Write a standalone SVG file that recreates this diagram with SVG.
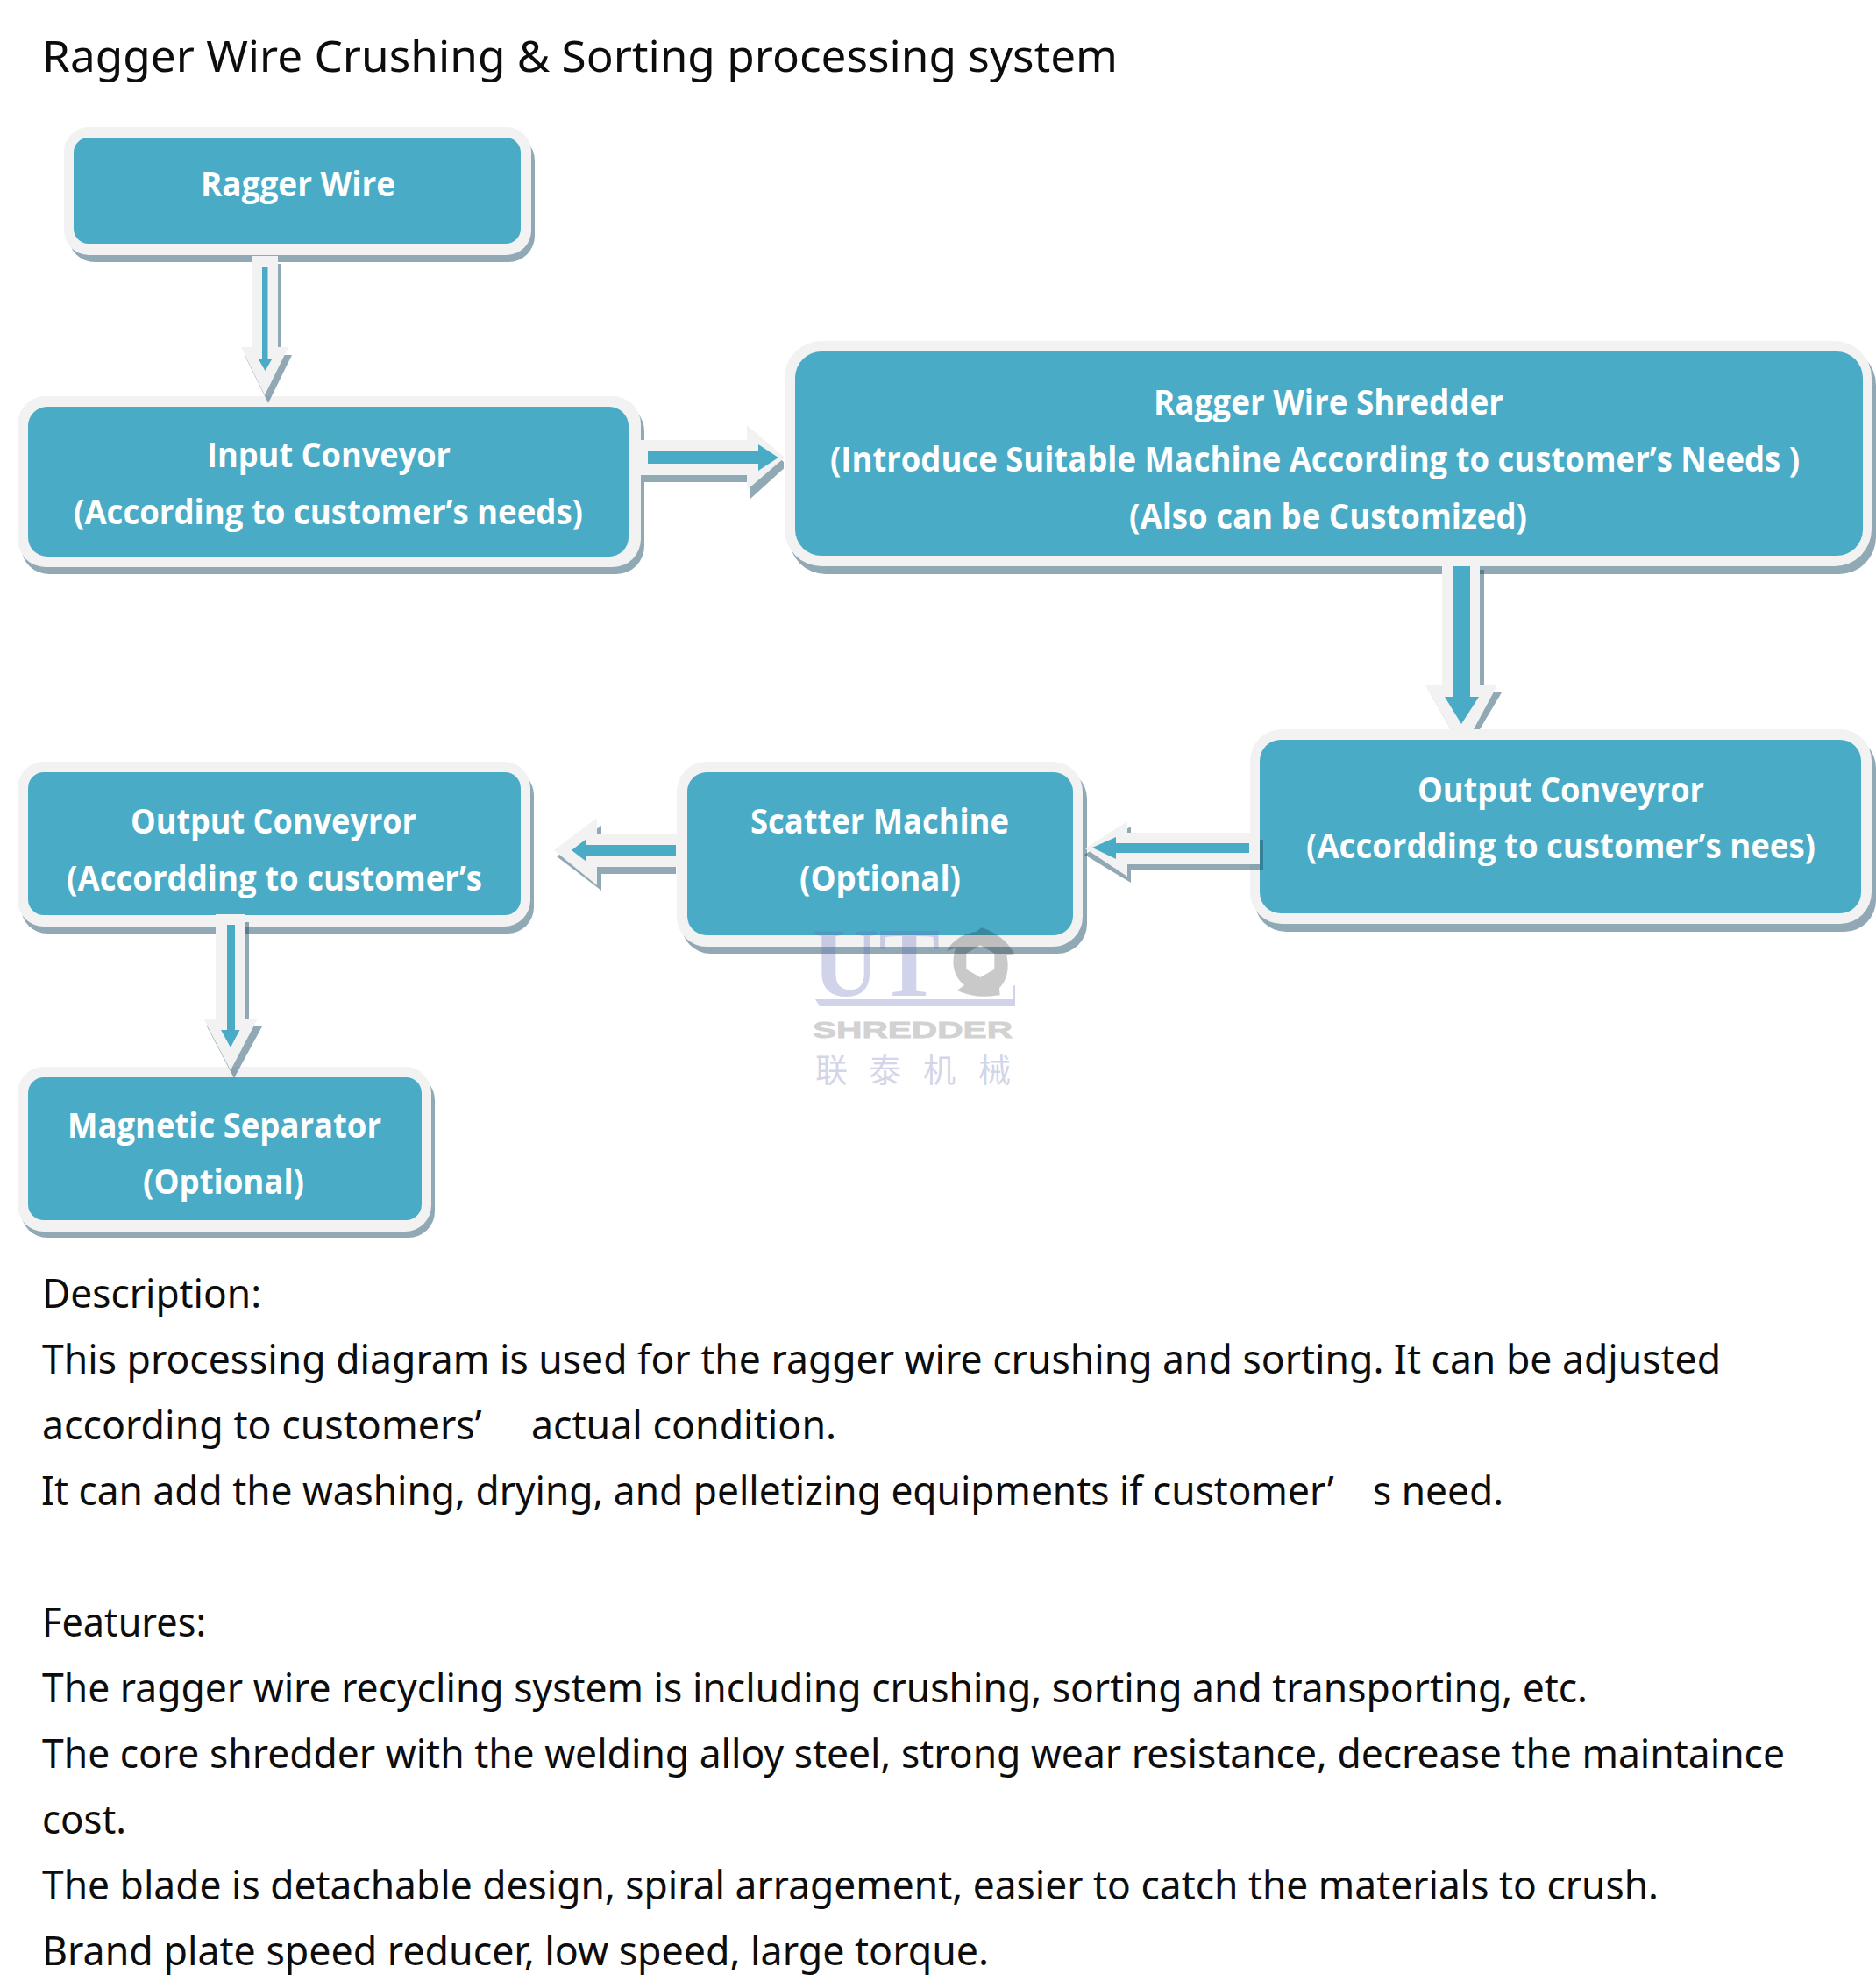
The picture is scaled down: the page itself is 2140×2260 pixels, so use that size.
<svg xmlns="http://www.w3.org/2000/svg" width="2140" height="2260" viewBox="0 0 2140 2260">
<style>
.shadow{fill:#21536b;fill-opacity:.5}
.border{fill:#f2f2f2}
.inner{fill:#4aabc6}
.nt{font-family:"Open Sans","Noto Sans","Liberation Sans",sans-serif;font-weight:700;font-size:39px;fill:#fff}
.bt{font-family:"Noto Sans","Open Sans","Liberation Sans",sans-serif;font-size:46px;fill:#0d0d0d}
.wm-l{fill:#626cb9;fill-opacity:.3}
.wm-g{fill:#000;fill-opacity:.21}
</style>
<rect width="2140" height="2260" fill="#fff"/>
<g id="title-text"><text class="bt" x="48" y="82" style="font-size:49px" textLength="1227" lengthAdjust="spacingAndGlyphs">Ragger Wire Crushing &amp; Sorting processing system</text></g>
<g id="ragger-wire">
<rect class="shadow" x="78" y="153" width="532" height="146" rx="30"/><rect class="border" x="73" y="145" width="533" height="146" rx="28"/><rect class="inner" x="84" y="157" width="510" height="121" rx="17"/>
<text class="nt" x="229" y="224" textLength="222" lengthAdjust="spacingAndGlyphs">Ragger Wire</text>
</g>
<g id="input-conveyor">
<rect class="shadow" x="24" y="460" width="711" height="195" rx="32"/><rect class="border" x="20" y="452" width="711" height="195" rx="32"/><rect class="inner" x="32" y="464" width="685" height="171" rx="22"/>
<text class="nt" x="236" y="533" textLength="278" lengthAdjust="spacingAndGlyphs">Input Conveyor</text>
<text class="nt" x="84" y="598" textLength="581" lengthAdjust="spacingAndGlyphs">(According to customer’s needs)</text>
</g>
<g id="shredder">
<rect class="shadow" x="900" y="397" width="1240" height="258" rx="42"/><rect class="border" x="895" y="389" width="1240" height="257" rx="42"/><rect class="inner" x="907" y="401" width="1218" height="233" rx="30"/>
<text class="nt" x="1316" y="473" textLength="399" lengthAdjust="spacingAndGlyphs">Ragger Wire Shredder</text>
<text class="nt" x="947" y="538" textLength="1106" lengthAdjust="spacingAndGlyphs">(Introduce Suitable Machine According to customer’s Needs )</text>
<text class="nt" x="1288" y="603" textLength="454" lengthAdjust="spacingAndGlyphs">(Also can be Customized)</text>
</g>
<g id="output-conveyor-1">
<rect class="shadow" x="1431" y="840" width="709" height="223" rx="36"/><rect class="border" x="1426" y="832" width="709" height="222" rx="36"/><rect class="inner" x="1437" y="844" width="686" height="198" rx="24"/>
<text class="nt" x="1617" y="915" textLength="327" lengthAdjust="spacingAndGlyphs">Output Conveyror</text>
<text class="nt" x="1490" y="979" textLength="581" lengthAdjust="spacingAndGlyphs">(Accordding to customer’s nees)</text>
</g>
<g id="scatter-machine">
<rect class="shadow" x="777" y="877" width="463" height="211" rx="34"/><rect class="border" x="772" y="869" width="463" height="211" rx="34"/><rect class="inner" x="784" y="881" width="440" height="186" rx="22"/>
<text class="nt" x="856" y="951" textLength="295" lengthAdjust="spacingAndGlyphs">Scatter Machine</text>
<text class="nt" x="912" y="1016" textLength="184" lengthAdjust="spacingAndGlyphs">(Optional)</text>
</g>
<g id="output-conveyor-2">
<rect class="shadow" x="24" y="877" width="585" height="188" rx="30"/><rect class="border" x="20" y="869" width="585" height="188" rx="30"/><rect class="inner" x="32" y="881" width="562" height="163" rx="18"/>
<text class="nt" x="149" y="951" textLength="326" lengthAdjust="spacingAndGlyphs">Output Conveyror</text>
<text class="nt" x="76" y="1016" textLength="474" lengthAdjust="spacingAndGlyphs">(Accordding to customer’s</text>
</g>
<g id="magnetic-separator">
<rect class="shadow" x="24" y="1225" width="472" height="187" rx="30"/><rect class="border" x="20" y="1217" width="472" height="188" rx="30"/><rect class="inner" x="32" y="1229" width="449" height="163" rx="18"/>
<text class="nt" x="77" y="1298" textLength="358" lengthAdjust="spacingAndGlyphs">Magnetic Separator</text>
<text class="nt" x="163" y="1362" textLength="184" lengthAdjust="spacingAndGlyphs">(Optional)</text>
</g>
<g id="connectors">
<g id="c1">
<polygon class="shadow" points="291,301 321,301 321,405 333,405 306,460 279,405 291,405"/>
<polygon class="border" points="287,292 317,292 317,396 329,396 302,451 275,396 287,396"/>
<polygon class="inner" points="299,305 305.500,305 305.500,410 310,410 302.500,423 295,410 299,410"/>
</g>
<g id="c2">
<polygon class="shadow" points="735,510 856,510 856,493 894,527 894,534.500 856,569 856,550 735,550"/>
<polygon class="border" points="731,502 852,502 852,485 895,522 852,559 852,542 731,542"/>
<polygon class="inner" points="739,515 865,515 865,507 888,522 865,537 865,529 739,529"/>
</g>
<g id="c3">
<polygon class="shadow" points="1650,650 1693,650 1693,790 1713,790 1688,832 1655,832 1628,785 1650,785"/>
<polygon class="border" points="1645,642 1688,642 1688,782 1708,782 1681,832 1655,832 1626,782 1645,782"/>
<polygon class="inner" points="1658,646 1677,646 1677,795 1687,795 1667,826 1648,795 1658,795"/>
</g>
<g id="c4">
<polygon class="shadow" points="1441,958 1441,993 1290,993 1290,1007 1237,975 1290,943 1290,958"/>
<polygon class="border" points="1437,950 1437,986 1286,986 1286,1000 1238,968 1286,937 1286,950"/>
<polygon class="inner" points="1425,962 1425,973 1273,973 1273,980 1246,967 1273,955 1273,962"/>
</g>
<g id="c5">
<polygon class="shadow" points="771,959 771,997 686,997 686,1016 635,977 686,942 686,959"/>
<polygon class="border" points="772,952 772,989 681,989 681,1010 632,970 681,933 681,952"/>
<polygon class="inner" points="771,964 771,977 669,977 669,983 652,970 669,957 669,964"/>
</g>
<g id="c6">
<polygon class="shadow" points="250,1052 284,1052 284,1171 299,1171 267,1230 236,1171 250,1171"/>
<polygon class="border" points="246,1043 280,1043 280,1162 294,1162 263,1221 232,1162 246,1162"/>
<polygon class="inner" points="259,1055 268,1055 268,1175 273.500,1175 263,1195 252,1175 259,1175"/>
</g>
</g>
<g id="watermark">
<text class="wm-l" x="927" y="1136" font-family="'Liberation Serif',serif" font-weight="700" font-size="112" textLength="145" lengthAdjust="spacingAndGlyphs">UT</text>
<path class="wm-g" fill-rule="evenodd" transform="translate(900,1050) scale(.3333)" d="M660,25 Q735,50 772,115 L745,118 Q760,190 720,232 L722,256 Q640,270 575,240 L600,222 Q545,175 570,95 L540,105 Q570,50 640,38 Z M655,85 L703,113 L703,167 L655,195 L607,167 L607,113 Z"/>
<polygon class="wm-l" points="930,1140 1155,1140 1155,1125 1158,1124 1158,1148 935,1148"/>
<text x="927" y="1184" font-family="'Liberation Sans',sans-serif" font-weight="700" font-size="26" fill="#d2d2d2" stroke="#d2d2d2" stroke-width=".8" textLength="228" lengthAdjust="spacingAndGlyphs">SHREDDER</text>
<text x="930 991 1053 1116" y="1235" font-family="'Noto Sans CJK SC',sans-serif" font-size="37" fill="#d3d5e8">联泰机械</text>
</g>
<g id="body-text">
<text class="bt" x="48" y="1492" textLength="250" lengthAdjust="spacingAndGlyphs">Description:</text>
<text class="bt" x="48" y="1567" textLength="1915" lengthAdjust="spacingAndGlyphs">This processing diagram is used for the ragger wire crushing and sorting. It can be adjusted</text>
<text class="bt" x="48" y="1642" textLength="906" lengthAdjust="spacingAndGlyphs">according to customers’&#x2003; actual condition.</text>
<text class="bt" x="47" y="1717" textLength="1668" lengthAdjust="spacingAndGlyphs">It can add the washing, drying, and pelletizing equipments if customer’&#x2003;s need.</text>
<text class="bt" x="48" y="1867" textLength="187" lengthAdjust="spacingAndGlyphs">Features:</text>
<text class="bt" x="48" y="1942" textLength="1763" lengthAdjust="spacingAndGlyphs">The ragger wire recycling system is including crushing, sorting and transporting, etc.</text>
<text class="bt" x="48" y="2017" textLength="1988" lengthAdjust="spacingAndGlyphs">The core shredder with the welding alloy steel, strong wear resistance, decrease the maintaince</text>
<text class="bt" x="48" y="2092" textLength="96" lengthAdjust="spacingAndGlyphs">cost.</text>
<text class="bt" x="48" y="2167" textLength="1844" lengthAdjust="spacingAndGlyphs">The blade is detachable design, spiral arragement, easier to catch the materials to crush.</text>
<text class="bt" x="48" y="2242" textLength="1080" lengthAdjust="spacingAndGlyphs">Brand plate speed reducer, low speed, large torque.</text>
</g>
</svg>
